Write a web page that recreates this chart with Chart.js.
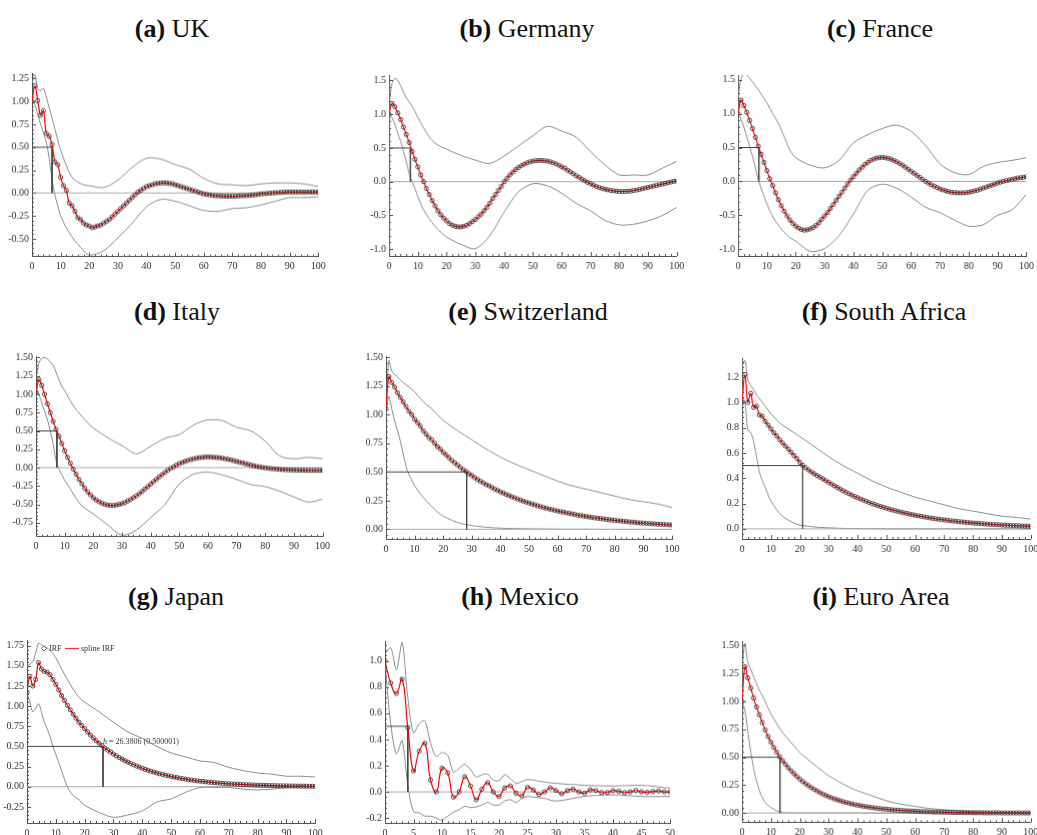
<!DOCTYPE html>
<html>
<head>
<meta charset="utf-8">
<script src="https://cdn.jsdelivr.net/npm/chart.js@4/dist/chart.umd.min.js"></script>
<style>
  body { margin: 0; background: #fff; width: 1037px; height: 835px; position: relative; overflow: hidden; font-family: "Liberation Serif", "Times New Roman", serif; }
  .ttl { position: absolute; width: 300px; margin-left: -150px; text-align: center; font-size: 26px; line-height: 26px; color: #111; white-space: nowrap; }
  .box { position: absolute; }
</style>
</head>
<body>
<script>
// ---- panel labels ----
const tags = ['(a)', '(b)', '(c)', '(d)', '(e)', '(f)', '(g)', '(h)', '(i)'];
const countries = ['UK', 'Germany', 'France', 'Italy', 'Switzerland', 'South Africa', 'Japan', 'Mexico', 'Euro Area'];
const halfLife = [7.0, 7.44, 7.2, 7.3, 28.2, 21.0, 26.3806, 4.0, 13.1];
const halfLevel = 0.5;

// ---- horizons ----
const steps100 = Array.from({length: 101}, (_, i) => i);
const steps50 = Array.from({length: 51}, (_, i) => i);
const bandSteps = [0,1,2,3,4,5,6,7,8,9,10,12,14,16,18,20,25,30,35,40,45,50,55,60,65,70,75,80,85,90,95,100];
const mexBandSteps = [0,1,2,3,4,5,6,7,8,9,10,11,12,13,14,15,16,17,18,19,20,21,22,23,24,25,26,28,30,35,40,45,50];

// ---- tick labels ----
const xTicks100 = [0,10,20,30,40,50,60,70,80,90,100];
const xTicks50 = [0,5,10,15,20,25,30,35,40,45,50];
const yTicksUK = [-0.5,-0.25,0,0.25,0.5,0.75,1,1.25];
const yTicksHalf = [-1,-0.5,0,0.5,1,1.5];
const yTicksIT = [-0.75,-0.5,-0.25,0,0.25,0.5,0.75,1,1.25,1.5];
const yTicksPos = [0,0.25,0.5,0.75,1,1.25,1.5];
const yTicksZA = [0,0.2,0.4,0.6,0.8,1,1.2];
const yTicksJP = [-0.25,0,0.25,0.5,0.75,1,1.25,1.5,1.75];
const yTicksMX = [-0.2,0,0.2,0.4,0.6,0.8,1];

// ---- (a) UK ----
const ukIrf = [1.0,1.17,1.01,0.85,0.9,0.65,0.62,0.53,0.34,0.31,0.17,0.08,0.03,-0.11,-0.14,-0.2,-0.27,-0.29,-0.33,-0.35,-0.36,-0.38,-0.37,-0.36,-0.35,-0.33,-0.31,-0.29,-0.26,-0.23,-0.2,-0.17,-0.14,-0.11,-0.08,-0.05,-0.02,0.01,0.03,0.05,0.07,0.08,0.09,0.1,0.105,0.11,0.11,0.11,0.105,0.1,0.09,0.08,0.07,0.06,0.05,0.04,0.03,0.02,0.01,0.0,-0.01,-0.015,-0.02,-0.025,-0.03,-0.03,-0.033,-0.035,-0.035,-0.035,-0.035,-0.035,-0.033,-0.03,-0.03,-0.028,-0.025,-0.022,-0.02,-0.015,-0.01,-0.008,-0.005,-0.002,0.0,0.003,0.005,0.007,0.009,0.01,0.01,0.01,0.01,0.01,0.01,0.01,0.01,0.01,0.01,0.01,0.01];
const ukUpper = [1.2,1.29,1.14,1.12,1.14,1.05,0.93,0.82,0.7,0.58,0.47,0.3,0.17,0.12,0.09,0.08,0.06,0.14,0.28,0.38,0.37,0.31,0.26,0.16,0.1,0.09,0.08,0.1,0.11,0.11,0.1,0.07];
const ukLower = [1.02,0.97,0.86,0.75,0.66,0.55,0.38,0.15,-0.02,-0.14,-0.25,-0.38,-0.48,-0.56,-0.63,-0.68,-0.63,-0.49,-0.33,-0.15,-0.07,-0.09,-0.14,-0.19,-0.2,-0.17,-0.16,-0.13,-0.09,-0.05,-0.05,-0.04];

// ---- (b) Germany ----
const deIrf = [1.0,1.16,1.11,1.02,0.92,0.81,0.7,0.58,0.45,0.33,0.22,0.1,0.0,-0.1,-0.19,-0.28,-0.36,-0.43,-0.49,-0.54,-0.58,-0.62,-0.645,-0.66,-0.67,-0.67,-0.66,-0.645,-0.62,-0.59,-0.56,-0.52,-0.48,-0.43,-0.38,-0.32,-0.25,-0.19,-0.13,-0.07,0.0,0.05,0.1,0.14,0.18,0.21,0.24,0.26,0.28,0.295,0.305,0.31,0.315,0.315,0.31,0.305,0.295,0.28,0.265,0.245,0.22,0.2,0.17,0.145,0.12,0.09,0.065,0.04,0.015,-0.01,-0.03,-0.05,-0.07,-0.085,-0.1,-0.11,-0.12,-0.13,-0.135,-0.14,-0.145,-0.145,-0.145,-0.14,-0.14,-0.13,-0.125,-0.115,-0.105,-0.095,-0.085,-0.075,-0.065,-0.055,-0.045,-0.035,-0.025,-0.015,-0.005,0.005,0.01];
const deUpper = [1.12,1.45,1.53,1.5,1.42,1.33,1.24,1.18,1.12,1.04,0.95,0.8,0.66,0.57,0.52,0.48,0.39,0.32,0.27,0.38,0.53,0.68,0.82,0.75,0.66,0.45,0.25,0.1,0.1,0.1,0.2,0.3];
const deLower = [1.0,0.95,0.85,0.72,0.6,0.45,0.3,0.12,0.0,-0.1,-0.22,-0.42,-0.55,-0.66,-0.75,-0.82,-0.93,-0.99,-0.8,-0.45,-0.15,-0.03,-0.06,-0.17,-0.32,-0.43,-0.57,-0.64,-0.63,-0.58,-0.5,-0.38];

// ---- (c) France ----
const frIrf = [1.0,1.2,1.12,1.02,0.9,0.78,0.65,0.52,0.4,0.28,0.16,0.04,-0.06,-0.17,-0.27,-0.36,-0.44,-0.51,-0.57,-0.62,-0.66,-0.69,-0.71,-0.72,-0.715,-0.7,-0.68,-0.65,-0.61,-0.56,-0.51,-0.46,-0.4,-0.34,-0.28,-0.22,-0.16,-0.1,-0.04,0.02,0.07,0.12,0.17,0.21,0.25,0.28,0.31,0.33,0.345,0.35,0.355,0.35,0.34,0.33,0.31,0.29,0.265,0.24,0.21,0.18,0.15,0.12,0.09,0.06,0.03,0.0,-0.025,-0.05,-0.07,-0.09,-0.11,-0.125,-0.14,-0.15,-0.16,-0.165,-0.17,-0.17,-0.17,-0.165,-0.16,-0.15,-0.14,-0.13,-0.115,-0.1,-0.085,-0.07,-0.055,-0.04,-0.025,-0.01,0.0,0.01,0.02,0.03,0.04,0.05,0.055,0.06,0.07];
const frUpper = [1.25,1.5,1.59,1.57,1.52,1.47,1.41,1.35,1.29,1.22,1.16,1.0,0.86,0.66,0.46,0.35,0.24,0.2,0.31,0.57,0.69,0.78,0.83,0.74,0.53,0.26,0.13,0.1,0.22,0.28,0.31,0.35];
const frLower = [1.02,0.92,0.8,0.66,0.52,0.37,0.2,0.03,-0.1,-0.22,-0.33,-0.52,-0.65,-0.75,-0.83,-0.88,-1.03,-0.99,-0.8,-0.48,-0.13,-0.04,-0.1,-0.23,-0.38,-0.46,-0.57,-0.66,-0.64,-0.5,-0.42,-0.19];

// ---- (d) Italy ----
const itIrf = [1.02,1.2,1.12,1.0,0.87,0.75,0.63,0.52,0.43,0.33,0.23,0.14,0.06,-0.02,-0.09,-0.16,-0.22,-0.28,-0.33,-0.37,-0.41,-0.44,-0.465,-0.485,-0.5,-0.51,-0.515,-0.515,-0.51,-0.5,-0.49,-0.475,-0.455,-0.435,-0.41,-0.385,-0.355,-0.325,-0.29,-0.26,-0.225,-0.19,-0.16,-0.125,-0.095,-0.065,-0.035,-0.01,0.01,0.035,0.055,0.07,0.085,0.1,0.11,0.12,0.13,0.135,0.14,0.145,0.145,0.145,0.14,0.14,0.135,0.13,0.12,0.115,0.105,0.095,0.085,0.075,0.065,0.055,0.045,0.035,0.025,0.017,0.01,0.003,-0.003,-0.008,-0.013,-0.017,-0.02,-0.023,-0.026,-0.028,-0.03,-0.032,-0.033,-0.034,-0.035,-0.036,-0.036,-0.037,-0.037,-0.037,-0.037,-0.037,-0.036];
const itUpper = [1.2,1.42,1.49,1.5,1.48,1.44,1.39,1.3,1.2,1.11,1.05,0.91,0.79,0.7,0.61,0.54,0.41,0.3,0.19,0.29,0.4,0.45,0.58,0.65,0.64,0.55,0.5,0.36,0.16,0.12,0.14,0.12];
const itLower = [1.07,1.0,0.88,0.77,0.65,0.5,0.32,0.1,-0.02,-0.1,-0.17,-0.29,-0.42,-0.52,-0.58,-0.63,-0.78,-0.92,-0.85,-0.68,-0.5,-0.22,-0.09,-0.06,-0.1,-0.16,-0.23,-0.26,-0.32,-0.4,-0.47,-0.43];

// ---- (e) Switzerland ----
const chIrf = [1.05,1.33,1.28,1.24,1.19,1.15,1.11,1.07,1.03,1.0,0.96,0.93,0.9,0.86,0.83,0.8,0.78,0.75,0.72,0.7,0.67,0.65,0.625,0.6,0.58,0.56,0.54,0.52,0.505,0.485,0.47,0.45,0.435,0.42,0.405,0.39,0.38,0.365,0.35,0.34,0.327,0.316,0.305,0.294,0.284,0.274,0.264,0.255,0.246,0.237,0.229,0.221,0.213,0.205,0.198,0.191,0.184,0.178,0.172,0.166,0.16,0.154,0.149,0.144,0.139,0.134,0.129,0.124,0.12,0.116,0.112,0.108,0.104,0.1,0.097,0.094,0.09,0.087,0.084,0.081,0.078,0.075,0.073,0.07,0.068,0.065,0.063,0.061,0.058,0.056,0.054,0.052,0.05,0.049,0.047,0.045,0.044,0.042,0.041,0.039,0.038];
const chUpper = [1.05,1.47,1.38,1.35,1.33,1.3,1.28,1.26,1.24,1.22,1.2,1.14,1.09,1.05,1.0,0.95,0.86,0.78,0.7,0.63,0.57,0.52,0.47,0.42,0.38,0.35,0.32,0.29,0.26,0.24,0.22,0.19];
const chLower = [1.0,1.16,1.05,0.95,0.86,0.77,0.66,0.55,0.48,0.43,0.38,0.31,0.25,0.2,0.15,0.115,0.06,0.033,0.018,0.01,0.006,0.004,0.003,0.002,0.001,0.001,0,0,0,0,0,0];

// ---- (f) South Africa ----
const zaIrf = [1.0,1.22,1.0,1.07,0.96,0.97,0.9,0.89,0.85,0.82,0.79,0.76,0.735,0.705,0.68,0.655,0.63,0.605,0.58,0.555,0.525,0.503,0.483,0.465,0.45,0.435,0.421,0.408,0.395,0.381,0.368,0.354,0.34,0.327,0.314,0.301,0.289,0.278,0.267,0.256,0.246,0.236,0.227,0.218,0.209,0.2,0.192,0.184,0.177,0.17,0.163,0.156,0.15,0.144,0.138,0.132,0.127,0.122,0.117,0.112,0.107,0.103,0.099,0.095,0.091,0.087,0.083,0.08,0.077,0.074,0.071,0.068,0.065,0.062,0.06,0.057,0.055,0.053,0.05,0.048,0.046,0.044,0.043,0.041,0.039,0.037,0.036,0.034,0.033,0.032,0.03,0.029,0.028,0.027,0.026,0.025,0.024,0.023,0.022,0.021,0.02];
const zaUpper = [1.28,1.33,1.18,1.13,1.1,1.06,1.03,1.0,0.97,0.94,0.91,0.86,0.82,0.79,0.76,0.73,0.65,0.57,0.5,0.44,0.38,0.33,0.29,0.25,0.22,0.19,0.16,0.14,0.12,0.1,0.09,0.077];
const zaLower = [1.05,1.0,0.78,0.76,0.69,0.57,0.45,0.38,0.33,0.27,0.22,0.15,0.1,0.07,0.045,0.03,0.015,0.008,0.004,0.002,0.001,0,0,0,0,0,0,0,0,0,0,0];

// ---- (g) Japan ----
const jpIrf = [1.17,1.37,1.25,1.33,1.54,1.46,1.43,1.42,1.39,1.33,1.27,1.2,1.13,1.07,1.01,0.955,0.9,0.85,0.8,0.76,0.72,0.68,0.64,0.605,0.57,0.54,0.51,0.48,0.455,0.43,0.405,0.383,0.362,0.342,0.323,0.305,0.288,0.272,0.257,0.243,0.229,0.216,0.204,0.192,0.181,0.171,0.161,0.152,0.143,0.135,0.127,0.12,0.113,0.106,0.1,0.094,0.088,0.083,0.078,0.073,0.069,0.065,0.061,0.057,0.054,0.05,0.047,0.044,0.041,0.039,0.036,0.034,0.032,0.03,0.028,0.026,0.025,0.023,0.022,0.02,0.019,0.018,0.017,0.016,0.015,0.014,0.013,0.012,0.011,0.011,0.01,0.009,0.009,0.008,0.008,0.007,0.007,0.006,0.006,0.005,0.005];
const jpUpper = [1.5,1.52,1.55,1.66,1.78,1.76,1.74,1.72,1.69,1.65,1.6,1.46,1.33,1.21,1.11,1.05,0.93,0.8,0.68,0.6,0.5,0.42,0.37,0.32,0.3,0.24,0.2,0.17,0.155,0.13,0.13,0.12];
const jpLower = [1.17,1.05,0.93,0.97,1.03,0.93,0.8,0.72,0.62,0.5,0.4,0.2,0.0,-0.11,-0.16,-0.23,-0.32,-0.38,-0.35,-0.3,-0.19,-0.15,-0.07,-0.01,-0.01,-0.01,-0.03,-0.04,-0.03,-0.01,0.0,0.0];

// ---- (h) Mexico ----
const mxIrf = [1.0,0.83,0.75,0.86,0.49,0.16,0.31,0.37,0.09,0.0,0.18,0.145,-0.04,0.0,0.115,0.045,-0.06,0.02,0.07,0.0,-0.035,0.03,0.045,-0.01,-0.03,0.035,0.015,-0.02,0.0,0.03,0.01,-0.015,0.01,0.02,0.0,-0.01,0.015,0.01,-0.005,-0.005,0.01,0.005,-0.005,0.0,0.01,0.0,-0.003,0.003,0.007,0.0,0.0];
const mxUpper = [1.05,1.1,0.93,1.14,0.72,0.45,0.52,0.54,0.37,0.27,0.3,0.28,0.15,0.18,0.21,0.17,0.115,0.13,0.135,0.09,0.085,0.13,0.1,0.065,0.078,0.095,0.09,0.075,0.065,0.05,0.045,0.05,0.028];
const mxLower = [0.98,0.52,0.29,0.39,0.05,-0.15,-0.16,-0.185,-0.185,-0.2,-0.215,-0.185,-0.155,-0.135,-0.11,-0.12,-0.115,-0.1,-0.08,-0.1,-0.1,-0.07,-0.06,-0.08,-0.05,-0.035,-0.04,-0.05,-0.07,-0.035,-0.022,-0.035,-0.035];

// ---- (i) Euro Area ----
const euIrf = [1.0,1.31,1.21,1.12,1.03,0.95,0.88,0.81,0.745,0.686,0.635,0.588,0.545,0.505,0.47,0.437,0.406,0.378,0.352,0.327,0.304,0.283,0.263,0.245,0.228,0.212,0.197,0.183,0.17,0.158,0.147,0.137,0.127,0.118,0.11,0.102,0.095,0.088,0.082,0.076,0.071,0.066,0.061,0.057,0.053,0.049,0.046,0.042,0.039,0.037,0.034,0.032,0.029,0.027,0.025,0.024,0.022,0.02,0.019,0.018,0.016,0.015,0.014,0.013,0.012,0.011,0.01,0.009,0.009,0.008,0.008,0.007,0.007,0.006,0.006,0.005,0.005,0.004,0.004,0.004,0.003,0.003,0.003,0.003,0.002,0.002,0.002,0.002,0.002,0.002,0.001,0.001,0.001,0.001,0.001,0.001,0.001,0.001,0.001,0.001,0.001];
const euUpper = [1.3,1.52,1.35,1.29,1.22,1.16,1.1,1.05,1.0,0.94,0.89,0.8,0.72,0.66,0.6,0.54,0.435,0.335,0.26,0.2,0.155,0.11,0.08,0.06,0.04,0.03,0.02,0.012,0.007,0.004,0.002,0.001];
const euLower = [1.0,0.92,0.73,0.55,0.4,0.29,0.2,0.14,0.095,0.07,0.05,0.02,0.005,0.002,0,0,0,0,0,0,0,0,0,0,0,0,0,0,0,0,0,0];

Chart.defaults.font.family = '"Liberation Serif", "Times New Roman", serif';
Chart.defaults.font.size = 10;
Chart.defaults.color = '#333';
Chart.defaults.animation = false;

const YW = 32, PT = 6, PR = 14, XH = 18;

// panel layout: plot rect [left, right, top, bottom] in page px, title centre
const panels = [
  {irf: ukIrf, up: ukUpper, lo: ukLower, xs: steps100, bx: bandSteps, xMax: 100, xTicks: xTicks100, yTicks: yTicksUK, dec: 2, yMin: -0.694, yMax: 1.31, rect: [31.7, 318, 70.1, 255.7], tx: 172, ty: 16},
  {irf: deIrf, up: deUpper, lo: deLower, xs: steps100, bx: bandSteps, xMax: 100, xTicks: xTicks100, yTicks: yTicksHalf, dec: 1, yMin: -1.1, yMax: 1.58, rect: [389, 675.7, 71.7, 255.7], tx: 527, ty: 16},
  {irf: frIrf, up: frUpper, lo: frLower, xs: steps100, bx: bandSteps, xMax: 100, xTicks: xTicks100, yTicks: yTicksHalf, dec: 1, yMin: -1.1, yMax: 1.57, rect: [738.3, 1025.7, 71.7, 255.7], tx: 880, ty: 16},
  {irf: itIrf, up: itUpper, lo: itLower, xs: steps100, bx: bandSteps, xMax: 100, xTicks: xTicks100, yTicks: yTicksIT, dec: 2, yMin: -0.94, yMax: 1.52, rect: [35.7, 322.3, 353.3, 536], tx: 177, ty: 299},
  {irf: chIrf, up: chUpper, lo: chLower, xs: steps100, bx: bandSteps, xMax: 100, xTicks: xTicks100, yTicks: yTicksPos, dec: 2, yMin: -0.09, yMax: 1.51, rect: [385.7, 671.7, 353.3, 539], tx: 528, ty: 299},
  {irf: zaIrf, up: zaUpper, lo: zaLower, xs: steps100, bx: bandSteps, xMax: 100, xTicks: xTicks100, yTicks: yTicksZA, dec: 1, yMin: -0.08, yMax: 1.35, rect: [742.3, 1030, 355, 539], tx: 884, ty: 299},
  {irf: jpIrf, up: jpUpper, lo: jpLower, xs: steps100, bx: bandSteps, xMax: 100, xTicks: xTicks100, yTicks: yTicksJP, dec: 2, yMin: -0.45, yMax: 1.82, rect: [26.7, 315, 636.7, 822.7], tx: 176, ty: 584, notes: true},
  {irf: mxIrf, up: mxUpper, lo: mxLower, xs: steps50, bx: mexBandSteps, xMax: 50, xTicks: xTicks50, yTicks: yTicksMX, dec: 1, yMin: -0.24, yMax: 1.15, rect: [385, 670, 638.3, 822.7], tx: 520, ty: 584, tension: 0.5},
  {irf: euIrf, up: euUpper, lo: euLower, xs: steps100, bx: bandSteps, xMax: 100, xTicks: xTicks100, yTicks: yTicksPos, dec: 2, yMin: -0.083, yMax: 1.54, rect: [742.3, 1030, 638.3, 821.7], tx: 881, ty: 584}
];

function pts(xs, ys) { return ys.map((y, i) => ({x: xs[i], y: y})); }

// small inward ticks on the left and bottom frame, Mathematica style
const frameTicks = {
  id: 'frameTicks',
  afterDraw(chart) {
    const {ctx, chartArea: a, scales: {x, y}} = chart;
    ctx.save();
    ctx.strokeStyle = '#555';
    ctx.lineWidth = 1;
    ctx.beginPath();
    const mark = (scale, horiz) => {
      const vals = scale.ticks.map(t => t.value);
      const minor = (vals[1] - vals[0]) / 5;
      let v = vals[0] - Math.floor((vals[0] - scale.min) / minor + 1e-6) * minor;
      for (; v <= scale.max + 1e-9; v += minor) {
        const major = vals.some(m => Math.abs(m - v) < minor / 10);
        const len = major ? 4 : 2;
        const p = Math.round(scale.getPixelForValue(v)) + 0.5;
        if (horiz) { ctx.moveTo(p, a.bottom); ctx.lineTo(p, a.bottom - len); }
        else { ctx.moveTo(a.left, p); ctx.lineTo(a.left + len, p); }
      }
    };
    mark(x, true);
    mark(y, false);
    ctx.stroke();
    ctx.restore();
  }
};

// legend and half-life label of the Japan panel
const japanNotes = {
  id: 'japanNotes',
  afterDatasetsDraw(chart) {
    const {ctx, chartArea: a, scales: {x, y}} = chart;
    const h = halfLife[6];
    ctx.save();
    ctx.font = '8px "Liberation Serif"';
    ctx.fillStyle = '#333';
    ctx.textBaseline = 'middle';
    const lx = a.left + 17, ly = a.top + 8.5;
    ctx.strokeStyle = '#444';
    ctx.lineWidth = 0.8;
    ctx.beginPath();
    ctx.moveTo(lx, ly - 2.5); ctx.lineTo(lx + 2.5, ly); ctx.lineTo(lx, ly + 2.5); ctx.lineTo(lx - 2.5, ly); ctx.closePath();
    ctx.stroke();
    ctx.fillText('IRF', lx + 5, ly);
    ctx.strokeStyle = '#ff3030';
    ctx.lineWidth = 1.2;
    ctx.beginPath(); ctx.moveTo(lx + 21, ly); ctx.lineTo(lx + 35, ly); ctx.stroke();
    ctx.fillText('spline IRF', lx + 37, ly);
    const hx = x.getPixelForValue(h), hy = y.getPixelForValue(halfLevel) - 5;
    ctx.font = 'italic 8px "Liberation Serif"';
    ctx.fillText('h', hx, hy);
    const w = ctx.measureText('h').width;
    ctx.font = '8px "Liberation Serif"';
    ctx.fillText(' = ' + h + ' (0.500001)', hx + w, hy);
    ctx.restore();
  }
};

panels.forEach((p, i) => {
  const title = document.createElement('div');
  title.className = 'ttl';
  title.style.left = p.tx + 'px';
  title.style.top = p.ty + 'px';
  title.innerHTML = '<b>' + tags[i] + '</b> ' + countries[i];
  document.body.appendChild(title);

  const [x0, x1, top, bot] = p.rect;
  const box = document.createElement('div');
  box.className = 'box';
  box.style.left = (x0 - YW) + 'px';
  box.style.top = (top - PT) + 'px';
  box.style.width = (x1 - x0 + YW + PR) + 'px';
  box.style.height = (bot - top + PT + XH) + 'px';
  const cv = document.createElement('canvas');
  box.appendChild(cv);
  document.body.appendChild(box);

  const h = halfLife[i];
  new Chart(cv, {
    type: 'line',
    data: {
      datasets: [
        {data: pts(p.xs, p.irf), borderColor: '#ff0000', borderWidth: 1.2, tension: p.tension || 0.4,
         pointRadius: 2.1, pointStyle: 'circle', pointBorderColor: '#2e2e2e',
         pointBackgroundColor: 'rgba(0,0,0,0)', pointBorderWidth: 0.8},
        {data: [{x: 0, y: halfLevel}, {x: h, y: halfLevel}, {x: h, y: 0}],
         borderColor: '#444', borderWidth: 1, pointRadius: 0, tension: 0},
        {data: [{x: 0, y: 0}, {x: p.xMax, y: 0}], borderColor: '#aaa', borderWidth: 1, pointRadius: 0},
        {data: pts(p.bx, p.up), borderColor: '#707070', borderWidth: 0.8, pointRadius: 0, tension: 0.3},
        {data: pts(p.bx, p.lo), borderColor: '#707070', borderWidth: 0.8, pointRadius: 0, tension: 0.3}
      ]
    },
    options: {
      responsive: true,
      maintainAspectRatio: false,
      layout: {padding: {top: PT, right: PR, left: 0, bottom: 0}},
      plugins: {legend: {display: false}, tooltip: {enabled: false}},
      scales: {
        x: {
          type: 'linear', min: 0, max: p.xMax,
          afterBuildTicks: s => { s.ticks = p.xTicks.map(v => ({value: v})); },
          afterFit: s => { s.height = XH; },
          grid: {display: false, drawTicks: false},
          border: {display: true, color: '#555', width: 1},
          ticks: {padding: 4, maxRotation: 0, autoSkip: false, color: '#333'}
        },
        y: {
          type: 'linear', min: p.yMin, max: p.yMax,
          afterBuildTicks: s => { s.ticks = p.yTicks.map(v => ({value: v})); },
          afterFit: s => { s.width = YW; },
          grid: {display: false, drawTicks: false},
          border: {display: true, color: '#555', width: 1},
          ticks: {padding: 3, autoSkip: false, color: '#333', callback: v => Number(v).toFixed(p.dec)}
        }
      }
    },
    plugins: p.notes ? [frameTicks, japanNotes] : [frameTicks]
  });
});
</script>
</body>
</html>
